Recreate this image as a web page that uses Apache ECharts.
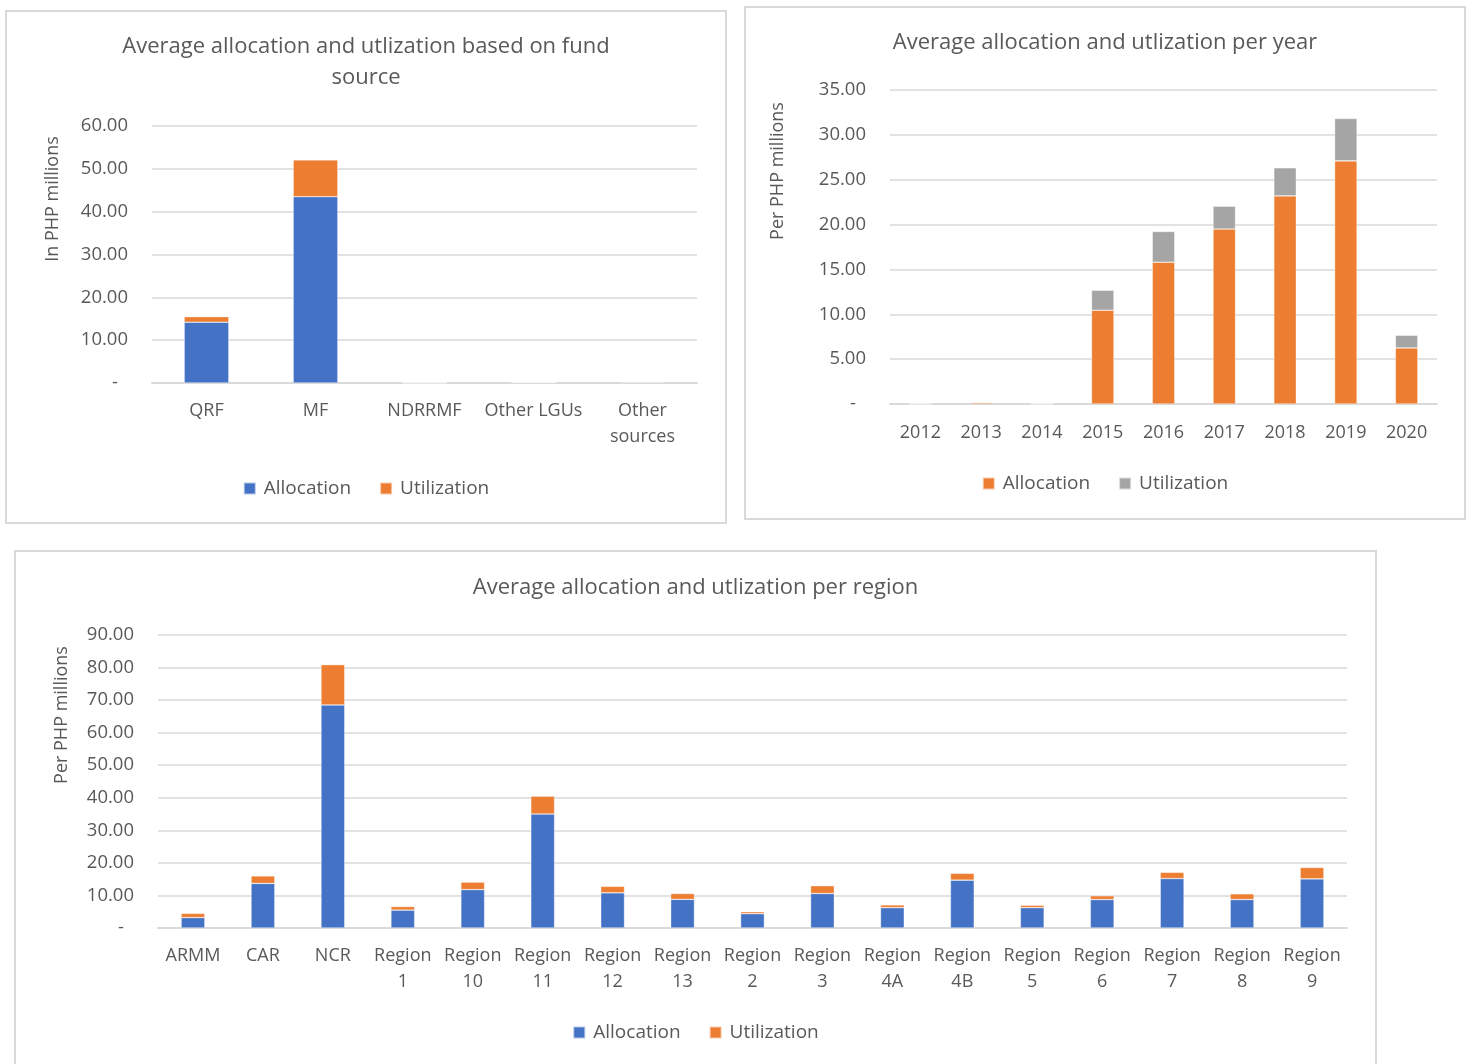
<!DOCTYPE html>
<html><head><meta charset="utf-8">
<script src="https://cdn.jsdelivr.net/npm/echarts@6/dist/echarts.min.js"></script>
<style>
html,body{margin:0;padding:0;background:#fff;width:1472px;height:1064px;overflow:hidden;}
.c{position:absolute;}
</style></head><body>
<div id="c1" class="c" style="left:5px;top:10px;width:722px;height:514px"></div>
<div id="c2" class="c" style="left:744px;top:6px;width:722px;height:514px"></div>
<div id="c3" class="c" style="left:14px;top:550px;width:1363px;height:530px"></div>
<script>
// Chart 1: by fund source
const fundCategories = ['QRF', 'MF', 'NDRRMF', 'Other LGUs', 'Other sources'];
const fundAllocation = [14.2, 43.5, 0.05, 0.15, 0.2];
const fundUtilization = [1.3, 8.6, 0.02, 0.1, 0.1];
const fundTicks = [0, 10, 20, 30, 40, 50, 60];

// Chart 2: per year
const yearCategories = ['2012', '2013', '2014', '2015', '2016', '2017', '2018', '2019', '2020'];
const yearAllocation = [0.03, 0.15, 0.03, 10.45, 15.8, 19.5, 23.2, 27.1, 6.25];
const yearUtilization = [0.01, 0.05, 0.01, 2.23, 3.43, 2.55, 3.13, 4.72, 1.41];
const yearTicks = [0, 5, 10, 15, 20, 25, 30, 35];

// Chart 3: per region
const regionCategories = ['ARMM', 'CAR', 'NCR', 'Region 1', 'Region 10', 'Region 11', 'Region 12', 'Region 13', 'Region 2', 'Region 3', 'Region 4A', 'Region 4B', 'Region 5', 'Region 6', 'Region 7', 'Region 8', 'Region 9'];
const regionAllocation = [3.2, 13.7, 68.5, 5.5, 11.8, 35.0, 10.8, 8.8, 4.4, 10.6, 6.25, 14.7, 6.25, 8.75, 15.2, 8.75, 15.1];
const regionUtilization = [1.3, 2.3, 12.4, 1.1, 2.3, 5.5, 2.0, 1.8, 0.6, 2.4, 0.85, 2.1, 0.75, 1.15, 1.9, 1.75, 3.5];
const regionTicks = [0, 10, 20, 30, 40, 50, 60, 70, 80, 90];

const BLUE = '#4472C4', ORANGE = '#ED7D31', GREY = '#A5A5A5';
const TXT = '#595959', GRID = '#d9d9d9';
const FONT = '"Open Sans", "Noto Sans", sans-serif';

function yLabel(v) { return v === 0 ? '{d|-}' : v.toFixed(2); }

function build(o) {
  const ticks = o.ticks;
  const interval = ticks[1] - ticks[0];
  return {
    animation: false,
    backgroundColor: '#fff',
    textStyle: { fontFamily: FONT, color: TXT },
    title: {
      text: o.title, left: 'center', top: o.titleTop,
      textStyle: { fontFamily: FONT, fontSize: 22, fontWeight: 'normal', color: TXT, lineHeight: 31 }
    },
    legend: {
      data: o.series.map(s => s.name), top: o.legendTop, left: 'center',
      icon: 'rect', itemWidth: 12, itemHeight: 12, itemGap: 28,
      textStyle: { fontFamily: FONT, fontSize: 19, color: TXT, padding: [0, 0, 0, 3] }
    },
    grid: o.grid,
    xAxis: {
      type: 'category', data: o.categories,
      axisTick: { show: false },
      axisLine: { lineStyle: { color: GRID, width: 2 } },
      axisLabel: { fontFamily: FONT, fontSize: 18, color: TXT, margin: o.xMargin, lineHeight: 26, interval: 0, formatter: o.xFormat || (v => v) }
    },
    yAxis: {
      type: 'value', min: ticks[0], max: ticks[ticks.length - 1], interval: interval,
      axisLine: { show: false }, axisTick: { show: false },
      splitLine: { lineStyle: { color: GRID, width: 1.5 } },
      axisLabel: {
        fontFamily: FONT, fontSize: 18.5, color: TXT, margin: o.yMargin, formatter: yLabel,
        rich: { d: { fontFamily: FONT, fontSize: 18.5, color: TXT, padding: [0, 10, 0, 0] } }
      }
    },
    graphic: [
      { type: 'rect', shape: { x: 1, y: 1, width: o.w - 2, height: o.h - 2 }, style: { fill: 'none', stroke: GRID, lineWidth: 2 }, silent: true },
      { type: 'text', x: o.yName[0], y: o.yName[1], rotation: Math.PI / 2,
        style: { text: o.yNameText, fill: TXT, font: '18px ' + FONT, textAlign: 'center', textVerticalAlign: 'middle' } }
    ],
    series: o.series.map(s => ({
      type: 'bar', name: s.name, stack: 'total', data: s.data,
      barCategoryGap: o.gap,
      itemStyle: { color: s.color, borderColor: 'rgba(255,255,255,0.6)', borderWidth: 0.6 }
    }))
  };
}

const c1 = echarts.init(document.getElementById('c1'), null, { renderer: 'canvas' });
c1.setOption(build({
  w: 722, h: 514,
  title: 'Average allocation and utlization based on fund\nsource', titleTop: 16,
  legendTop: 464,
  grid: { left: 147, right: 30, top: 116, bottom: 141 },
  categories: fundCategories, ticks: fundTicks, gap: '59%',
  xMargin: 15, yMargin: 24,
  xFormat: v => v === 'Other sources' ? 'Other\nsources' : v,
  yName: [48, 189], yNameText: 'In PHP millions',
  series: [
    { name: 'Allocation', data: fundAllocation, color: BLUE },
    { name: 'Utilization', data: fundUtilization, color: ORANGE }
  ]
}));

const c2 = echarts.init(document.getElementById('c2'), null, { renderer: 'canvas' });
c2.setOption(build({
  w: 722, h: 514,
  title: 'Average allocation and utlization per year', titleTop: 16,
  legendTop: 463,
  grid: { left: 146, right: 29, top: 84, bottom: 116 },
  categories: yearCategories, ticks: yearTicks, gap: '63%',
  xMargin: 16, yMargin: 24,
  yName: [34, 165], yNameText: 'Per PHP millions',
  series: [
    { name: 'Allocation', data: yearAllocation, color: ORANGE },
    { name: 'Utilization', data: yearUtilization, color: GREY }
  ]
}));

const c3 = echarts.init(document.getElementById('c3'), null, { renderer: 'canvas' });
c3.setOption(build({
  w: 1363, h: 530,
  title: 'Average allocation and utlization per region', titleTop: 17,
  legendTop: 468,
  grid: { left: 144, right: 30, top: 85, bottom: 152 },
  categories: regionCategories, ticks: regionTicks, gap: '66%',
  xMargin: 15, yMargin: 24,
  xFormat: v => v.replace(' ', '\n'),
  yName: [48, 165], yNameText: 'Per PHP millions',
  series: [
    { name: 'Allocation', data: regionAllocation, color: BLUE },
    { name: 'Utilization', data: regionUtilization, color: ORANGE }
  ]
}));
</script>
</body></html>
